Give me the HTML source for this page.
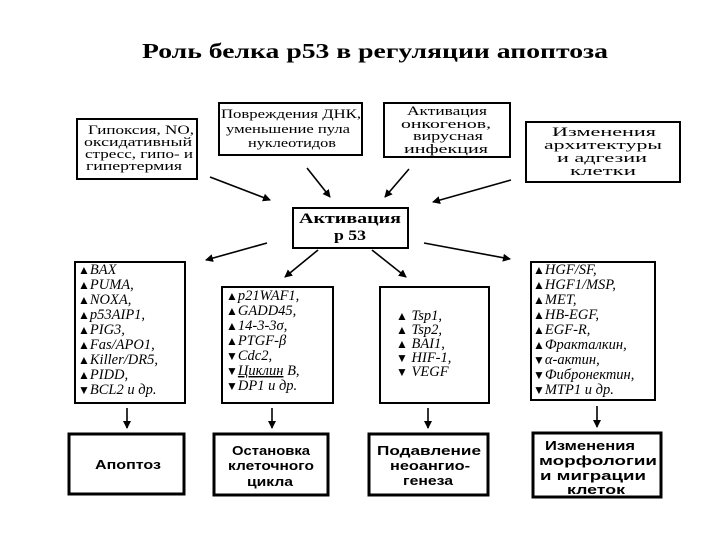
<!DOCTYPE html>
<html><head><meta charset="utf-8"><style>
html,body{margin:0;padding:0;background:#fff;}
svg{display:block;}
text{font-family:"Liberation Serif",serif;fill:#000;}
.b text{font-family:"Liberation Sans",sans-serif;font-weight:bold;}
.i text{font-style:italic;font-size:14.5px;}
.i tspan.m{font-style:normal;font-size:12px;}
</style></head><body>
<svg width="720" height="540" viewBox="0 0 720 540" xmlns="http://www.w3.org/2000/svg">
<defs>
<marker id="a" markerWidth="8" markerHeight="8" refX="7" refY="4" orient="auto" markerUnits="userSpaceOnUse">
<path d="M0,0 L8,4 L0,8 z" fill="#000"/></marker>
</defs>
<text x="142" y="58" font-size="21" font-weight="bold" textLength="466" lengthAdjust="spacingAndGlyphs">Роль белка p53 в регуляции апоптоза</text>

<g fill="none" stroke="#000" stroke-width="2">
<rect x="77" y="119" width="120" height="60"/>
<rect x="219" y="103" width="143" height="52"/>
<rect x="384" y="103" width="126" height="54"/>
<rect x="526" y="122" width="154" height="60"/>
<rect x="293" y="208" width="115" height="40"/>
<rect x="75" y="262" width="110" height="141"/>
<rect x="222" y="287" width="111" height="116"/>
<rect x="380" y="287" width="109" height="116"/>
<rect x="531" y="262" width="124" height="138"/>
</g>
<g fill="none" stroke="#000" stroke-width="3">
<rect x="69" y="434" width="115" height="60"/>
<rect x="214" y="434" width="114" height="61"/>
<rect x="369" y="434" width="119" height="61"/>
<rect x="533" y="433" width="128" height="64"/>
</g>

<g stroke="#000" stroke-width="1.6" marker-end="url(#a)">
<line x1="210" y1="177" x2="270" y2="200"/>
<line x1="307" y1="168" x2="330" y2="197"/>
<line x1="409" y1="169" x2="385" y2="197"/>
<line x1="511" y1="180" x2="433" y2="202"/>
<line x1="267" y1="243" x2="206" y2="260"/>
<line x1="318" y1="250" x2="285" y2="277"/>
<line x1="372" y1="250" x2="406" y2="277"/>
<line x1="424" y1="243" x2="510" y2="259"/>
<line x1="127" y1="408" x2="127" y2="428"/>
<line x1="272" y1="408" x2="272" y2="428"/>
<line x1="428" y1="408" x2="428" y2="428"/>
<line x1="597" y1="406" x2="597" y2="427"/>
</g>

<g font-size="12.5">
<text x="88" y="134" textLength="106" lengthAdjust="spacingAndGlyphs">Гипоксия, NO,</text>
<text x="84" y="146" textLength="108" lengthAdjust="spacingAndGlyphs">оксидативный</text>
<text x="85" y="158" textLength="108" lengthAdjust="spacingAndGlyphs">стресс, гипо- и</text>
<text x="86" y="170" textLength="96" lengthAdjust="spacingAndGlyphs">гипертермия</text>
<text x="221" y="118" textLength="140" lengthAdjust="spacingAndGlyphs">Повреждения ДНК,</text>
<text x="226" y="133" textLength="124" lengthAdjust="spacingAndGlyphs">уменьшение пула</text>
<text x="248" y="147" textLength="88" lengthAdjust="spacingAndGlyphs">нуклеотидов</text>
<text x="407" y="115" textLength="80" lengthAdjust="spacingAndGlyphs">Активация</text>
<text x="401" y="128" textLength="90" lengthAdjust="spacingAndGlyphs">онкогенов,</text>
<text x="413" y="140" textLength="70" lengthAdjust="spacingAndGlyphs">вирусная</text>
<text x="404" y="153" textLength="84" lengthAdjust="spacingAndGlyphs">инфекция</text>
<text x="552" y="136" textLength="104" lengthAdjust="spacingAndGlyphs">Изменения</text>
<text x="544" y="149" textLength="118" lengthAdjust="spacingAndGlyphs">архитектуры</text>
<text x="557" y="162" textLength="90" lengthAdjust="spacingAndGlyphs">и адгезии</text>
<text x="570" y="175" textLength="66" lengthAdjust="spacingAndGlyphs">клетки</text>
</g>
<text x="299" y="223" font-size="15" font-weight="bold" textLength="102" lengthAdjust="spacingAndGlyphs">Активация</text>
<text x="334" y="240" font-size="15" font-weight="bold" textLength="32" lengthAdjust="spacingAndGlyphs">p 53</text>

<g class="i">
<text x="78" y="274"><tspan class="m">▲</tspan>BAX</text>
<text x="78" y="289"><tspan class="m">▲</tspan>PUMA,</text>
<text x="78" y="304"><tspan class="m">▲</tspan>NOXA,</text>
<text x="78" y="319"><tspan class="m">▲</tspan>p53AIP1,</text>
<text x="78" y="334"><tspan class="m">▲</tspan>PIG3,</text>
<text x="78" y="349"><tspan class="m">▲</tspan>Fas/APO1,</text>
<text x="78" y="364"><tspan class="m">▲</tspan>Killer/DR5,</text>
<text x="78" y="379"><tspan class="m">▲</tspan>PIDD,</text>
<text x="78" y="394"><tspan class="m">▼</tspan>BCL2 и др.</text>

<text x="226" y="300"><tspan class="m">▲</tspan>p21WAF1,</text>
<text x="226" y="315"><tspan class="m">▲</tspan>GADD45,</text>
<text x="226" y="330"><tspan class="m">▲</tspan>14-3-3σ,</text>
<text x="226" y="345"><tspan class="m">▲</tspan>PTGF-β</text>
<text x="226" y="360"><tspan class="m">▼</tspan>Cdc2,</text>
<text x="226" y="375"><tspan class="m">▼</tspan><tspan text-decoration="underline">Циклин</tspan> B,</text>
<text x="226" y="390"><tspan class="m">▼</tspan>DP1 и др.</text>

<text x="396" y="320"><tspan class="m">▲</tspan> Tsp1,</text>
<text x="396" y="334"><tspan class="m">▲</tspan> Tsp2,</text>
<text x="396" y="348"><tspan class="m">▲</tspan> BAI1,</text>
<text x="396" y="362"><tspan class="m">▼</tspan> HIF-1,</text>
<text x="396" y="376"><tspan class="m">▼</tspan> VEGF</text>

<text x="533" y="274"><tspan class="m">▲</tspan>HGF/SF,</text>
<text x="533" y="289"><tspan class="m">▲</tspan>HGF1/MSP,</text>
<text x="533" y="304"><tspan class="m">▲</tspan>MET,</text>
<text x="533" y="319"><tspan class="m">▲</tspan>HB-EGF,</text>
<text x="533" y="334"><tspan class="m">▲</tspan>EGF-R,</text>
<text x="533" y="349"><tspan class="m">▲</tspan>Фракталкин,</text>
<text x="533" y="364"><tspan class="m">▼</tspan>α-актин,</text>
<text x="533" y="379"><tspan class="m">▼</tspan>Фибронектин,</text>
<text x="533" y="394"><tspan class="m">▼</tspan>MTP1 и др.</text>
</g>

<g class="b" font-size="13">
<text x="95" y="469" textLength="66" lengthAdjust="spacingAndGlyphs">Апоптоз</text>
<text x="232" y="455" textLength="78" lengthAdjust="spacingAndGlyphs">Остановка</text>
<text x="228" y="470" textLength="86" lengthAdjust="spacingAndGlyphs">клеточного</text>
<text x="247" y="486" textLength="46" lengthAdjust="spacingAndGlyphs">цикла</text>
<text x="377" y="455" textLength="104" lengthAdjust="spacingAndGlyphs">Подавление</text>
<text x="390" y="470" textLength="80" lengthAdjust="spacingAndGlyphs">неоангио-</text>
<text x="403" y="485" textLength="50" lengthAdjust="spacingAndGlyphs">генеза</text>
<text x="545" y="450" textLength="90" lengthAdjust="spacingAndGlyphs">Изменения</text>
<text x="539" y="465" textLength="118" lengthAdjust="spacingAndGlyphs">морфологии</text>
<text x="540" y="480" textLength="106" lengthAdjust="spacingAndGlyphs">и  миграции</text>
<text x="567" y="494" textLength="58" lengthAdjust="spacingAndGlyphs">клеток</text>
</g>
</svg>
</body></html>
